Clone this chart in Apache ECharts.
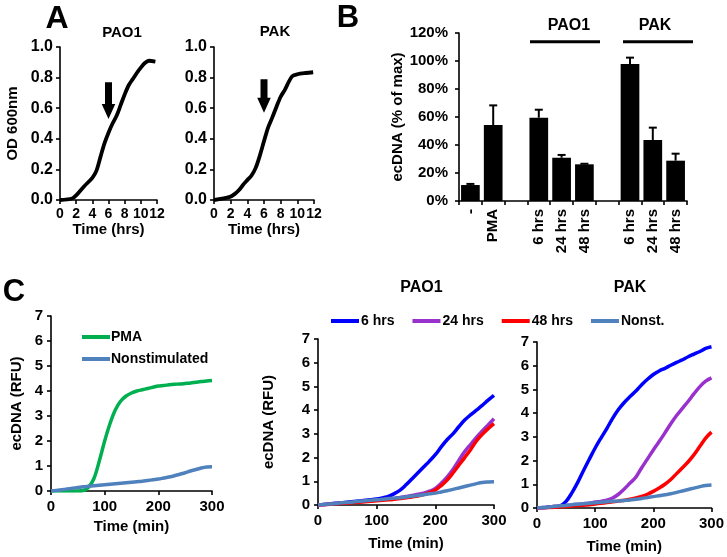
<!DOCTYPE html>
<html><head><meta charset="utf-8">
<script src="https://cdn.jsdelivr.net/npm/echarts@6/dist/echarts.min.js"></script>
<style>html,body{margin:0;padding:0;background:#fff}#c{width:727px;height:557px}</style>
</head><body><div id="c"></div>
<script>
// ---------- Panel A : growth curves ----------
const growthHrsPAO1 = [0,1.5,2,3,4,4.5,5,5.5,6,6.5,7,7.5,8,8.5,9,9.5,10,10.5,11,11.8];
const growthOdPAO1  = [0,0.01,0.03,0.09,0.145,0.19,0.28,0.37,0.44,0.5,0.55,0.62,0.69,0.75,0.79,0.83,0.865,0.895,0.91,0.905];
const growthHrsPAK  = [0,1.9,2.5,3,3.5,4,4.5,5,5.5,6,6.5,7,7.5,8,8.5,9,9.4,10,11,11.9];
const growthOdPAK   = [0,0.02,0.04,0.065,0.1,0.13,0.16,0.21,0.29,0.385,0.475,0.54,0.61,0.675,0.72,0.775,0.81,0.822,0.83,0.835];
const arrowHrs = 6;
const arrowPAO1 = [0.77, 0.53];   // [top, tip]
const arrowPAK  = [0.79, 0.57];

// ---------- Panel B : ecDNA % of max ----------
const barCategories = ['-','PMA','','6 hrs','24 hrs','48 hrs','','6 hrs','24 hrs','48 hrs'];
const barValues     = [11.4, 54.3, null, 59.5, 30.9, 26.2, null, 97.9, 43.6, 28.8];
const barErrors     = [0.8, 14.0, null, 5.7, 2.0, 0.4, null, 4.5, 8.8, 5.0];
const groupLabels   = ['PAO1','PAK'];

// ---------- Panel C : kinetics (RFU) ----------
const tMin = [0,10,20,30,40,50,60,70,80,90,100,110,120,130,140,150,160,170,180,190,200,210,220,230,240,250,260,270,280,290,300];
const cPMA      = [0,0,0,0,0,0,0.02,0.15,0.5,1.2,2.0,2.7,3.25,3.6,3.8,3.92,4.0,4.05,4.1,4.15,4.2,4.22,4.25,4.27,4.28,4.3,4.32,4.35,4.38,4.4,4.42];
const cNonstim  = [0,0.02,0.05,0.08,0.11,0.14,0.17,0.19,0.21,0.23,0.25,0.27,0.29,0.31,0.33,0.35,0.37,0.39,0.42,0.45,0.48,0.52,0.56,0.61,0.67,0.73,0.8,0.86,0.92,0.96,0.97];
const pao1_6h   = [0,0.02,0.05,0.07,0.1,0.12,0.15,0.17,0.2,0.22,0.25,0.3,0.36,0.48,0.63,0.85,1.1,1.35,1.6,1.85,2.12,2.45,2.75,3.0,3.3,3.58,3.8,4.0,4.2,4.42,4.62];
const pao1_24h  = [0,0.02,0.04,0.06,0.08,0.1,0.12,0.14,0.16,0.18,0.2,0.22,0.25,0.28,0.32,0.36,0.4,0.45,0.5,0.58,0.7,0.92,1.18,1.5,1.88,2.25,2.55,2.85,3.12,3.38,3.64];
const pao1_48h  = [0,0.01,0.03,0.05,0.07,0.08,0.1,0.12,0.14,0.16,0.18,0.2,0.22,0.24,0.27,0.3,0.34,0.38,0.44,0.52,0.63,0.82,1.05,1.35,1.68,2.0,2.33,2.7,2.98,3.22,3.43];
const pao1_non  = [0,0.02,0.04,0.06,0.09,0.11,0.13,0.16,0.18,0.2,0.22,0.24,0.27,0.29,0.31,0.34,0.37,0.4,0.43,0.47,0.5,0.55,0.6,0.66,0.72,0.78,0.84,0.9,0.95,0.97,0.98];
const pak_6h    = [0,0.01,0.03,0.05,0.09,0.28,0.64,1.08,1.58,2.06,2.53,2.95,3.35,3.78,4.15,4.45,4.7,4.93,5.2,5.43,5.63,5.78,5.89,6.02,6.14,6.25,6.38,6.49,6.6,6.73,6.8];
const pak_24h   = [0,0.02,0.04,0.07,0.09,0.11,0.13,0.16,0.18,0.2,0.25,0.28,0.33,0.42,0.58,0.8,1.05,1.3,1.7,2.07,2.45,2.8,3.17,3.55,3.9,4.2,4.5,4.82,5.12,5.35,5.49];
const pak_48h   = [0,0.01,0.02,0.03,0.05,0.06,0.08,0.1,0.12,0.14,0.17,0.2,0.23,0.26,0.29,0.33,0.37,0.42,0.49,0.58,0.7,0.84,1.0,1.2,1.45,1.7,1.95,2.25,2.6,2.95,3.2];
const pak_non   = [0,0.02,0.04,0.07,0.09,0.11,0.14,0.16,0.18,0.2,0.22,0.24,0.26,0.28,0.3,0.32,0.34,0.37,0.4,0.44,0.48,0.52,0.56,0.6,0.66,0.72,0.78,0.84,0.9,0.95,0.97];

const F = "'Liberation Sans', Arial, sans-serif";
const BLACK = '#000';
const COL = {pma:'#00B050', non:'#4F81BD', h6:'#0000FF', h24:'#9932CC', h48:'#FF0000'};

function pairs(xs, ys){ return xs.map((x,i)=>[x, ys[i]]); }
const axisLine = {show:true, onZero:false, lineStyle:{color:BLACK, width:1.6}};
function axisTick(len){ return {show:true, length:len, lineStyle:{color:BLACK, width:1.6}}; }
function lab(size, extra){ return Object.assign({color:BLACK, fontSize:size, fontWeight:'bold', fontFamily:F}, extra||{}); }
function nameStyle(size){ return {color:BLACK, fontSize:size, fontWeight:'bold', fontFamily:F}; }

function arrowRender(params, api){
  const top = api.coord([api.value(0), api.value(1)]);
  const tip = api.coord([api.value(0), api.value(2)]);
  const x = top[0], hw = 3.5, headW = 6.8, headH = 15;
  return {type:'polygon', shape:{points:[
    [x-hw, top[1]],[x+hw, top[1]],[x+hw, tip[1]-headH],[x+headW, tip[1]-headH],
    [x, tip[1]],[x-headW, tip[1]-headH],[x-hw, tip[1]-headH]]}, style:{fill:BLACK}};
}
function errRender(params, api){
  const x = api.value(0), v = api.value(1), e = api.value(2);
  const p0 = api.coord([x, v]);
  const p1 = api.coord([x, v + e]);
  const cw = 4;
  return {type:'group', children:[
    {type:'line', shape:{x1:p0[0], y1:p0[1], x2:p1[0], y2:p1[1]}, style:{stroke:BLACK, lineWidth:2}},
    {type:'line', shape:{x1:p1[0]-cw, y1:p1[1], x2:p1[0]+cw, y2:p1[1]}, style:{stroke:BLACK, lineWidth:2}}
  ]};
}
const errData = [];
barValues.forEach((v,i)=>{ if (v !== null) errData.push([i, v, barErrors[i]]); });

function growthX(gi){
  return {gridIndex:gi, type:'value', min:0, max:12, interval:2,
    axisLine, axisTick:axisTick(4), splitLine:{show:false},
    axisLabel:lab(14,{margin:7}),
    name:'Time (hrs)', nameLocation:'middle', nameGap:19, nameTextStyle:nameStyle(15)};
}
function growthY(gi, withName){
  const a = {gridIndex:gi, type:'value', min:0, max:1, interval:0.2,
    axisLine, axisTick:axisTick(4), splitLine:{show:false},
    axisLabel:lab(16,{margin:7, formatter:v=>v.toFixed(1)})};
  if (withName) Object.assign(a, {name:'OD 600nm', nameLocation:'middle', nameGap:40, nameTextStyle:nameStyle(15)});
  return a;
}
function kinX(gi, gap){
  return {gridIndex:gi, type:'value', min:0, max:300, interval:100,
    axisLine, axisTick:axisTick(4), splitLine:{show:false},
    axisLabel:lab(15,{margin:8}),
    name:'Time (min)', nameLocation:'middle', nameGap:gap, nameTextStyle:nameStyle(15)};
}
function kinY(gi, gap){
  const a = {gridIndex:gi, type:'value', min:0, max:7, interval:1,
    axisLine, axisTick:axisTick(4), splitLine:{show:false},
    axisLabel:lab(15,{margin:8})};
  if (gap) Object.assign(a, {name:'ecDNA (RFU)', nameLocation:'middle', nameGap:gap, nameTextStyle:nameStyle(15)});
  return a;
}
function kinLine(name, xi, vals, color, z){
  return {type:'line', name, xAxisIndex:xi, yAxisIndex:xi, data:pairs(tMin, vals),
    symbol:'none', smooth:0.35, lineStyle:{color, width:3.5}, itemStyle:{color}, z:z||2};
}
function gText(text, x, y, size){
  return {type:'text', x, y, style:{text, fill:BLACK, fontSize:size, fontWeight:'bold', fontFamily:F, align:'center', verticalAlign:'middle'}};
}

const chart = echarts.init(document.getElementById('c'));
chart.setOption({
  animation:false,
  backgroundColor:'#fff',
  grid:[
    {left:60, top:47, width:97, height:153},
    {left:214, top:47, width:100, height:153},
    {left:459, top:33, width:228, height:168},
    {left:51, top:316, width:161, height:175},
    {left:318, top:339, width:176, height:166},
    {left:537, top:342, width:176, height:166}
  ],
  xAxis:[
    growthX(0), growthX(1),
    {gridIndex:2, type:'category', data:barCategories,
      axisLine:{show:true, lineStyle:{color:BLACK, width:1.6}}, axisTick:{show:true, length:4, lineStyle:{color:BLACK, width:1.6}},
      axisLabel:lab(15,{rotate:90, interval:0, margin:8})},
    kinX(3, 28), kinX(4, 31), kinX(5, 31)
  ],
  yAxis:[
    growthY(0, true), growthY(1, false),
    {gridIndex:2, type:'value', min:0, max:120, interval:20,
      axisLine, axisTick:axisTick(4), splitLine:{show:false},
      axisLabel:lab(15,{margin:11, formatter:'{value}%'}),
      name:'ecDNA (% of max)', nameLocation:'middle', nameGap:52, nameTextStyle:nameStyle(15)},
    kinY(3, 27), kinY(4, 42), kinY(5, 0)
  ],
  legend:[
    {orient:'vertical', left:77, top:325, itemGap:8, itemWidth:28, itemHeight:4, icon:'rect',
      textStyle:{color:BLACK, fontSize:14, fontWeight:'bold', fontFamily:F, padding:[0,0,0,-4]},
      data:['PMA','Nonstimulated']},
    {orient:'horizontal', left:326, top:309, itemGap:18, itemWidth:28, itemHeight:4, icon:'rect',
      textStyle:{color:BLACK, fontSize:14, fontWeight:'bold', fontFamily:F, padding:[0,0,0,-3]},
      data:['6 hrs','24 hrs','48 hrs','Nonst.']}
  ],
  series:[
    {type:'line', xAxisIndex:0, yAxisIndex:0, data:pairs(growthHrsPAO1, growthOdPAO1), symbol:'none', smooth:0.3,
      lineStyle:{color:BLACK, width:3.8}},
    {type:'line', xAxisIndex:1, yAxisIndex:1, data:pairs(growthHrsPAK, growthOdPAK), symbol:'none', smooth:0.3,
      lineStyle:{color:BLACK, width:3.8}},
    {type:'custom', xAxisIndex:0, yAxisIndex:0, data:[[arrowHrs, arrowPAO1[0], arrowPAO1[1]]], renderItem:arrowRender, silent:true},
    {type:'custom', xAxisIndex:1, yAxisIndex:1, data:[[arrowHrs, arrowPAK[0], arrowPAK[1]]], renderItem:arrowRender, silent:true},
    {type:'bar', xAxisIndex:2, yAxisIndex:2, data:barValues, barCategoryGap:'18%', itemStyle:{color:BLACK}},
    {type:'custom', xAxisIndex:2, yAxisIndex:2, data:errData, renderItem:errRender, z:3, silent:true},
    kinLine('PMA', 3, cPMA, COL.pma, 2),
    kinLine('Nonstimulated', 3, cNonstim, COL.non, 3),
    kinLine('6 hrs', 4, pao1_6h, COL.h6, 2),
    kinLine('24 hrs', 4, pao1_24h, COL.h24, 2),
    kinLine('48 hrs', 4, pao1_48h, COL.h48, 2),
    kinLine('Nonst.', 4, pao1_non, COL.non, 3),
    kinLine('6 hrs', 5, pak_6h, COL.h6, 2),
    kinLine('24 hrs', 5, pak_24h, COL.h24, 2),
    kinLine('48 hrs', 5, pak_48h, COL.h48, 2),
    kinLine('Nonst.', 5, pak_non, COL.non, 3)
  ],
  graphic:[
    gText('A', 57, 19, 32),
    gText('B', 348, 18, 31),
    gText('C', 14, 292, 31),
    gText('PAO1', 122, 33, 15),
    gText('PAK', 275, 32, 15),
    gText(groupLabels[0], 569, 26, 16),
    gText(groupLabels[1], 655, 26, 16),
    gText('PAO1', 421.5, 288, 16),
    gText('PAK', 630, 288, 16),
    {type:'line', shape:{x1:530, y1:41.7, x2:600, y2:41.7}, style:{stroke:BLACK, lineWidth:3}},
    {type:'line', shape:{x1:623, y1:41.7, x2:693, y2:41.7}, style:{stroke:BLACK, lineWidth:3}}
  ]
});
</script></body></html>
